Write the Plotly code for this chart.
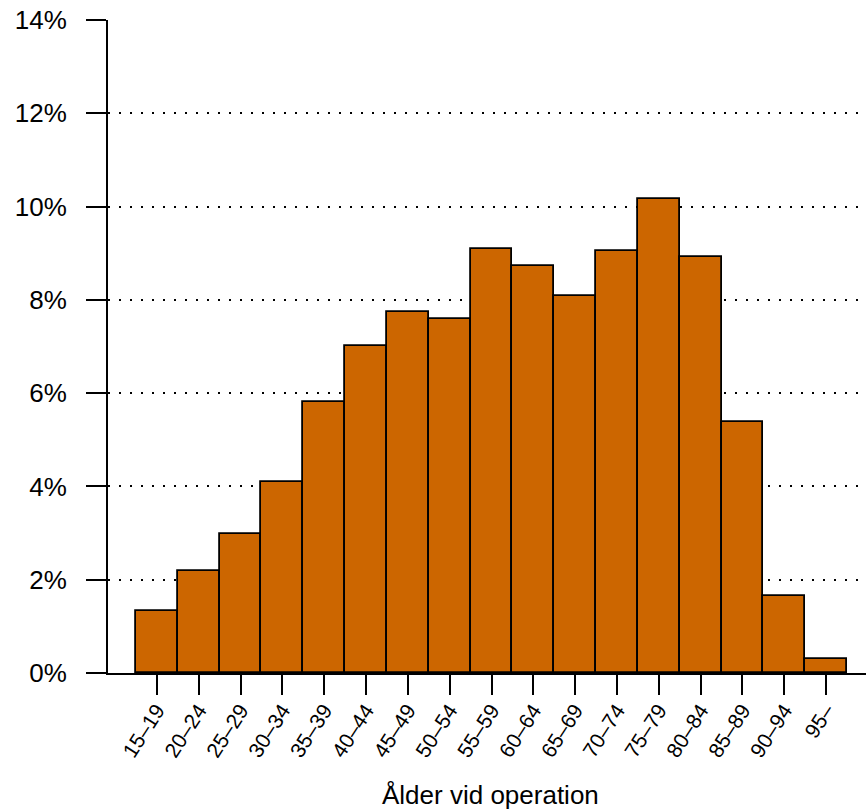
import plotly.graph_objects as go

categories = ["15–19", "20–24", "25–29", "30–34", "35–39", "40–44", "45–49",
              "50–54", "55–59", "60–64", "65–69", "70–74", "75–79", "80–84",
              "85–89", "90–94", "95–"]
values = [1.34, 2.19, 2.98, 4.10, 5.82, 7.02, 7.73, 7.60, 9.08, 8.73, 8.09,
          9.04, 10.17, 8.91, 5.39, 1.65, 0.30]
y_ticks = [0, 2, 4, 6, 8, 10, 12, 14]
y_labels = [f"{v}%" for v in y_ticks]
x_title = "Ålder vid operation"

positions = list(range(len(categories)))

fig = go.Figure()
fig.add_trace(go.Bar(
    x=positions, y=values, width=1.0,
    marker=dict(color="#CC6600", line=dict(color="black", width=1.8)),
    hoverinfo="skip",
))

font = "Liberation Sans, Arial, Helvetica, sans-serif"
fig.update_layout(
    width=866, height=812,
    margin=dict(l=108, r=0, t=20, b=139),
    paper_bgcolor="white", plot_bgcolor="white",
    showlegend=False,
    bargap=0,
    font=dict(family=font, color="black"),
    xaxis=dict(
        range=[-1.17, 16.954],
        tickvals=positions, ticktext=categories,
        tickangle=-57, tickfont=dict(size=21, family=font, color="black"),
        ticks="outside", ticklen=20, tickwidth=1.8, tickcolor="black",
        showline=True, linecolor="black", linewidth=1.8,
        showgrid=False, zeroline=False,
        ticklabelstandoff=-5,
    ),
    yaxis=dict(
        range=[0, 14],
        tickvals=y_ticks, ticktext=y_labels,
        tickfont=dict(size=26, family=font, color="black"),
        ticks="outside", ticklen=20, tickwidth=1.8, tickcolor="black",
        showline=True, linecolor="black", linewidth=1.8,
        showgrid=True, gridcolor="black", gridwidth=1.6, griddash="2px,9px",
        zeroline=False,
        ticklabelstandoff=14,
    ),
    annotations=[dict(
        text=x_title, xref="paper", yref="paper",
        x=0.505, y=-0.187, xanchor="center", yanchor="middle",
        showarrow=False, font=dict(size=26, family=font, color="black"),
    )],
)

fig.write_html(
    "out.html",
    config={"displayModeBar": False},
    post_script="document.body.style.margin='0px';document.body.style.overflow='hidden';",
)
